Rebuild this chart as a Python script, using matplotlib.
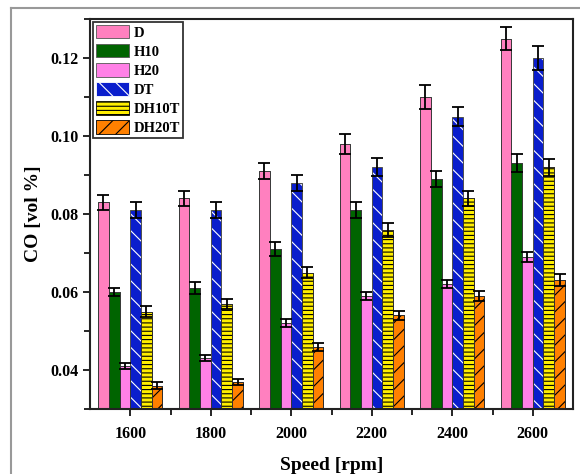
import numpy as np
import matplotlib
matplotlib.use('Agg')
import matplotlib.pyplot as plt
from matplotlib.lines import Line2D
from matplotlib.ticker import MultipleLocator

# Data
speeds = ['1600', '1800', '2000', '2200', '2400', '2600']
series = ['D', 'H10', 'H20', 'DT', 'DH10T', 'DH20T']

co_D = [0.083, 0.084, 0.091, 0.098, 0.110, 0.125]
co_H10 = [0.060, 0.061, 0.071, 0.081, 0.089, 0.093]
co_H20 = [0.041, 0.043, 0.052, 0.059, 0.062, 0.069]
co_DT = [0.081, 0.081, 0.088, 0.092, 0.105, 0.120]
co_DH10T = [0.055, 0.057, 0.065, 0.076, 0.084, 0.092]
co_DH20T = [0.036, 0.037, 0.046, 0.054, 0.059, 0.063]

err_D = [0.002, 0.002, 0.002, 0.0025, 0.003, 0.003]
err_H10 = [0.001, 0.0015, 0.0017, 0.002, 0.002, 0.0023]
err_H20 = [0.0008, 0.0008, 0.001, 0.001, 0.001, 0.0013]
err_DT = [0.002, 0.002, 0.002, 0.0023, 0.0025, 0.003]
err_DH10T = [0.0013, 0.0013, 0.0015, 0.0018, 0.002, 0.0022]
err_DH20T = [0.0008, 0.0008, 0.001, 0.0012, 0.0012, 0.0015]

values = [co_D, co_H10, co_H20, co_DT, co_DH10T, co_DH20T]
errors = [err_D, err_H10, err_H20, err_DT, err_DH10T, err_DH20T]

colors = ['#FF80BF', '#006400', '#FF80E6', '#0A1ECC', '#FFEE00', '#FF8000']
hatches = [None, None, None, '\\\\', '----', '//']
hatch_colors = ['#555555', '#555555', '#555555', 'white', 'black', 'black']

plt.rcParams['font.family'] = ['Liberation Serif', 'DejaVu Serif']
plt.rcParams['font.weight'] = 'bold'
plt.rcParams['hatch.linewidth'] = 0.8

fig = plt.figure(figsize=(5.8, 4.74), dpi=100)
ax = fig.add_axes([90 / 580, 1 - 409 / 474, (573 - 90) / 580, (409 - 19) / 474])

x = np.arange(len(speeds))
width = 0.8 / len(series)

for i, name in enumerate(series):
    pos = x - 0.4 + width * (i + 0.5)
    ax.bar(pos, values[i], width, color=colors[i], label=name,
           edgecolor=hatch_colors[i], hatch=hatches[i], linewidth=0.6, zorder=2)
    # thin dark outline on top of the hatch-coloured edges
    ax.bar(pos, values[i], width, fill=False, edgecolor='#333333', linewidth=0.6, zorder=2.5)
    ax.errorbar(pos, values[i], yerr=errors[i], fmt='none', ecolor='black',
                elinewidth=1.3, capsize=4, capthick=1.3, zorder=3)

ax.set_xlim(-0.5, 5.5)
ax.set_ylim(0.03, 0.13)
ax.set_xticks(x)
ax.set_xticklabels(speeds, fontsize=11.5, fontweight='bold')
ax.set_xticks(np.arange(0.5, 5.5, 1), minor=True)
ax.yaxis.set_minor_locator(MultipleLocator(0.01))
ax.set_yticks([0.04, 0.06, 0.08, 0.10, 0.12])
ax.set_yticklabels(['0.04', '0.06', '0.08', '0.10', '0.12'], fontsize=11.5, fontweight='bold')

ax.tick_params(axis='both', which='major', direction='out', length=5, width=1.2,
               top=False, right=False)
ax.tick_params(axis='both', which='minor', direction='out', length=4, width=1.2,
               top=False, right=False)
ax.tick_params(axis='x', which='major', pad=7)

for s in ax.spines.values():
    s.set_linewidth(1.5)
    s.set_color('#222222')

ax.set_xlabel('Speed [rpm]', fontsize=14, fontweight='bold', labelpad=11)
ax.set_ylabel('CO [vol %]', fontsize=14, fontweight='bold', labelpad=6)

leg = ax.legend(loc='upper left', fontsize=10.5, frameon=True, fancybox=False,
                handlelength=2.3, handleheight=1.05, handletextpad=0.3,
                labelspacing=0.3, borderpad=0.2, borderaxespad=0.2)
leg.get_frame().set_edgecolor('black')
leg.get_frame().set_linewidth(1.3)
for t in leg.get_texts():
    t.set_fontweight('bold')

# Outer gray frame
fig.add_artist(Line2D([11 / 580, 1], [1 - 7.5 / 474, 1 - 7.5 / 474], color='#999999',
                      linewidth=1.5, transform=fig.transFigure))
fig.add_artist(Line2D([11 / 580, 11 / 580], [0, 1 - 7.5 / 474], color='#999999',
                      linewidth=1.5, transform=fig.transFigure))

plt.savefig('out.png', dpi=100)
